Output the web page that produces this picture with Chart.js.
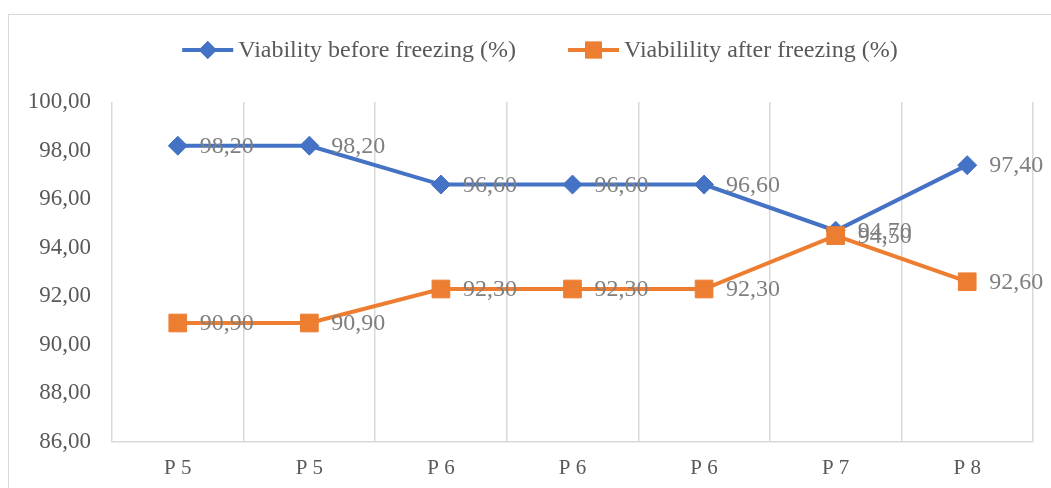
<!DOCTYPE html>
<html>
<head>
<meta charset="utf-8">
<script src="https://cdn.jsdelivr.net/npm/chart.js@4/dist/chart.umd.min.js"></script>
<style>
  body { margin: 0; background: #fff; }
  canvas { display: block; }
</style>
</head>
<body>
<canvas id="chart" width="1051" height="488"></canvas>
<script>
// --- Data ---
const categories = ['P 5', 'P 5', 'P 6', 'P 6', 'P 6', 'P 7', 'P 8'];
const beforeFreezing = [98.2, 98.2, 96.6, 96.6, 96.6, 94.7, 97.4];
const afterFreezing = [90.9, 90.9, 92.3, 92.3, 92.3, 94.5, 92.6];
const seriesNames = ['Viability before freezing (%)', 'Viabilility after freezing (%)'];
const yTicks = [86, 88, 90, 92, 94, 96, 98, 100];

const BLUE = '#4472C4';
const ORANGE = '#ED7D31';
const FONT = '"Liberation Serif", "Times New Roman", serif';

const fmt = v => v.toFixed(2).replace('.', ',');

// outer frame + legend, like the spreadsheet chart
const framePlugin = {
    id: 'frame',
    beforeDraw(chart) {
        const c = chart.ctx;
        c.save();
        c.strokeStyle = '#d9d9d9';
        c.lineWidth = 1;
        c.strokeRect(8.5, 14.5, chart.width + 10, chart.height + 10);
        c.restore();
    },
    afterDraw(chart) {
        const c = chart.ctx;
        c.save();
        c.font = '24px ' + FONT;
        c.textBaseline = 'middle';
        const y = 50;
        const widths = seriesNames.map(n => 56 + c.measureText(n).width);
        const gap = 52;
        const total = widths[0] + widths[1] + gap;
        let x = 540 - total / 2;
        chart.data.datasets.forEach((ds, i) => {
            c.strokeStyle = ds.borderColor;
            c.lineWidth = 4;
            c.beginPath();
            c.moveTo(x, y);
            c.lineTo(x + 51, y);
            c.stroke();
            c.fillStyle = ds.borderColor;
            Chart.helpers.drawPoint(c, { pointStyle: ds.pointStyle, radius: ds.pointRadius * 0.95, borderWidth: 0 }, x + 25.5, y);
            c.fill();
            c.fillStyle = '#595959';
            c.textAlign = 'left';
            c.fillText(seriesNames[i], x + 56, y + 1);
            x += widths[i] + gap;
        });
        c.restore();
    }
};

// value labels to the right of each point
const valueLabels = {
    id: 'valueLabels',
    afterDatasetsDraw(chart) {
        const c = chart.ctx;
        c.save();
        c.font = '24px ' + FONT;
        c.fillStyle = '#7f7f7f';
        c.textAlign = 'left';
        c.textBaseline = 'middle';
        chart.data.datasets.forEach((ds, i) => {
            const meta = chart.getDatasetMeta(i);
            meta.data.forEach((pt, j) => {
                c.fillText(fmt(ds.data[j]), pt.x + 22, pt.y + 1);
            });
        });
        c.restore();
    }
};

const ctx = document.getElementById('chart').getContext('2d');
new Chart(ctx, {
    type: 'line',
    data: {
        labels: categories,
        datasets: [{
            label: seriesNames[0],
            data: beforeFreezing,
            borderColor: BLUE,
            backgroundColor: BLUE,
            borderWidth: 4,
            pointStyle: 'rectRot',
            pointRadius: 9.5,
            pointBorderWidth: 1,
            tension: 0,
            order: 1
        }, {
            label: seriesNames[1],
            data: afterFreezing,
            borderColor: ORANGE,
            backgroundColor: ORANGE,
            borderWidth: 4,
            pointStyle: 'rect',
            pointRadius: 12.5,
            pointBorderWidth: 1,
            tension: 0,
            order: 0
        }]
    },
    options: {
        responsive: false,
        animation: false,
        layout: { padding: { top: 102, right: 18, left: 0, bottom: 0 } },
        plugins: { legend: { display: false }, tooltip: { enabled: false } },
        scales: {
            x: {
                offset: true,
                grid: { offset: true, color: '#d9d9d9', lineWidth: 1.5, drawTicks: false },
                border: { color: '#d9d9d9', width: 1.5 },
                ticks: { color: '#595959', font: { family: FONT, size: 21 }, padding: 14 },
                afterFit: s => { s.height = 46; }
            },
            y: {
                min: 86,
                max: 100,
                afterBuildTicks: s => { s.ticks = yTicks.map(v => ({ value: v })); },
                grid: { display: false, drawTicks: false },
                border: { display: false },
                ticks: {
                    color: '#595959',
                    font: { family: FONT, size: 23 },
                    padding: 21,
                    callback: v => fmt(v)
                },
                afterFit: s => { s.width = 112; }
            }
        }
    },
    plugins: [framePlugin, valueLabels]
});
</script>
</body>
</html>
